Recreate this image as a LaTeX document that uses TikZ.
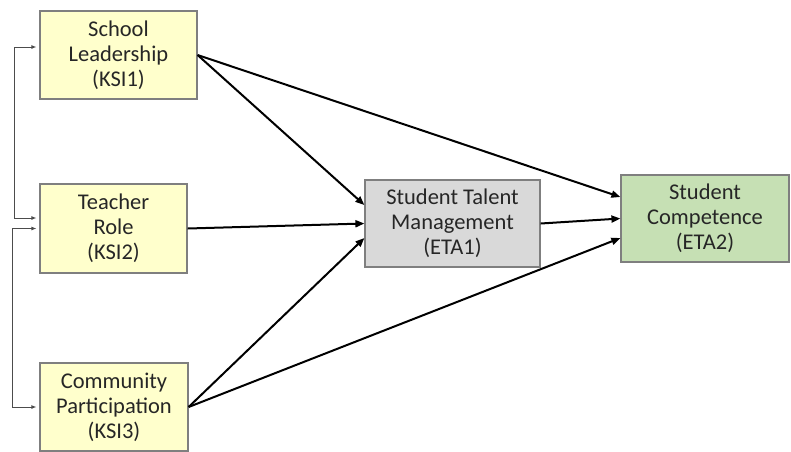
\documentclass[tikz,border=0pt]{standalone}
\usepackage{fontspec}
\setmainfont{Carlito}
\usetikzlibrary{arrows.meta}

\definecolor{ksifill}{HTML}{FFFFCC}
\definecolor{eta1fill}{HTML}{D9D9D9}
\definecolor{eta2fill}{HTML}{C6E0B4}
\definecolor{boxline}{HTML}{7F7F7F}
\definecolor{txt}{HTML}{262626}

\begin{document}
\begin{tikzpicture}[x=1pt, y=-1pt,
    box/.style={draw=boxline, line width=1.2pt, align=center, inner sep=0pt,
      text=txt, font=\fontsize{22.5}{25}\selectfont},
    path/.style={draw, line width=2pt, -{Triangle[length=9pt,width=7pt]}},
    corr/.style={draw=black!70, line width=0.9pt, {Latex[length=5pt,width=4pt]}-{Latex[length=5pt,width=4pt]},
      shorten <=3pt, shorten >=3pt}]

  \useasboundingbox (0,0) rectangle (791,451);

  \node[box, fill=ksifill, minimum width=157pt, minimum height=88pt] (KSI1) at (118.5,55)
    {School\\Leadership\\(KSI1)};
  \node[box, fill=ksifill, minimum width=147pt, minimum height=89pt] (KSI2) at (113.5,228.5)
    {Teacher\\Role\\(KSI2)};
  \node[box, fill=ksifill, minimum width=148pt, minimum height=88pt] (KSI3) at (114,407)
    {Community\\Participation\\(KSI3)};
  \node[box, fill=eta1fill, minimum width=175pt, minimum height=87pt] (ETA1) at (452.5,223.5)
    {Student Talent\\Management\\(ETA1)};
  \node[box, fill=eta2fill, minimum width=168pt, minimum height=87pt] (ETA2) at (705,218.5)
    {Student\\Competence\\(ETA2)};

  \draw[path] (KSI1.east) -- ([yshift=18.5pt]ETA1.west);
  \draw[path] (KSI1.east) -- ([yshift=21.5pt]ETA2.west);
  \draw[path] (KSI2.east) -- (ETA1.west);
  \draw[path] (KSI3.east) -- ([yshift=-14.5pt]ETA1.west);
  \draw[path] (KSI3.east) -- ([yshift=-19.5pt]ETA2.west);
  \draw[path] (ETA1.east) -- (ETA2.west);

  \draw[corr] ([yshift=8pt]KSI1.west) -- ++(-25pt,0) |- ([yshift=10.5pt]KSI2.west);
  \draw[corr] (KSI2.west) -- ++(-27pt,0) |- (KSI3.west);

\end{tikzpicture}
\end{document}
